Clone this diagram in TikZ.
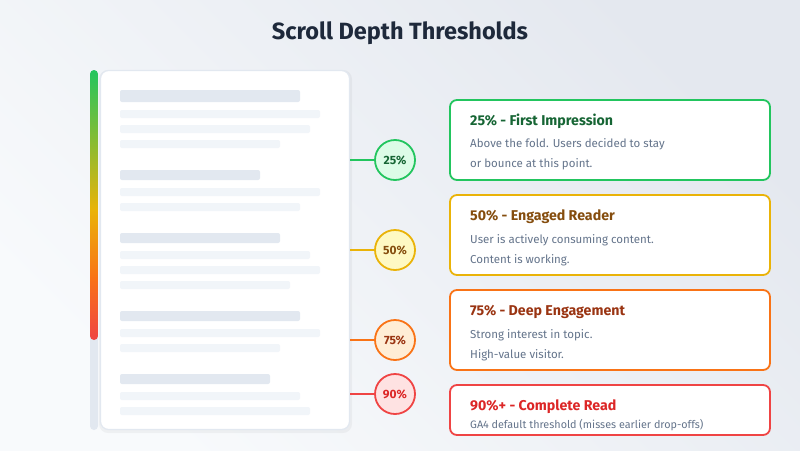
\documentclass[tikz,border=0pt]{standalone}
\usepackage{fontspec}
\setmainfont{Fira Sans}
\definecolor{bgA}{HTML}{F8FAFC}
\definecolor{bgB}{HTML}{E4E8EF}
\definecolor{titlec}{HTML}{1E293B}
\definecolor{trackc}{HTML}{E2E8F0}
\definecolor{headbar}{HTML}{E2E8F0}
\definecolor{textbar}{HTML}{F1F5F9}
\definecolor{descc}{HTML}{64748B}
\definecolor{gS}{HTML}{22C55E}\definecolor{gF}{HTML}{DCFCE7}\definecolor{gT}{HTML}{166534}
\definecolor{yS}{HTML}{EAB308}\definecolor{yF}{HTML}{FEF9C3}\definecolor{yT}{HTML}{854D0E}
\definecolor{oS}{HTML}{F97316}\definecolor{oF}{HTML}{FFEDD5}\definecolor{oT}{HTML}{9A3412}
\definecolor{rS}{HTML}{EF4444}\definecolor{rF}{HTML}{FEE2E2}\definecolor{rT}{HTML}{DC2626}
\tikzset{
  marker/.style={circle,minimum size=40pt,inner sep=0pt,line width=1.8pt,font=\fontsize{12}{13}\selectfont\bfseries},
  link/.style={line width=2.5pt},
  card/.style={rectangle,rounded corners=7pt,fill=white,line width=1.8pt,minimum width=320pt,inner sep=0pt},
  ctitle/.style={anchor=base west,inner sep=0pt,font=\fontsize{14.2}{15}\selectfont\bfseries},
  cdesc/.style={anchor=base west,inner sep=0pt,text=descc,font=\fontsize{11.5}{12}\selectfont},
  hbar/.style={fill=headbar,rounded corners=2pt},
  tbar/.style={fill=textbar,rounded corners=2pt},
}
\begin{document}
\begin{tikzpicture}[x=1pt,y=-1pt]
\useasboundingbox (0,0) rectangle (800,450);
\shade[top color=bgA,bottom color=bgB,shading angle=135] (0,0) rectangle (800,450);
\node[font=\fontsize{23.5}{25}\selectfont\bfseries,text=titlec,anchor=base] (title) at (400,39.5) {Scroll Depth Thresholds};
% progress track
\fill[trackc,rounded corners=4pt] (90,70) rectangle (98,430);
\begin{scope}
\clip[rounded corners=4pt] (90,70) rectangle (98,340);
\shade[top color=gS,bottom color=yS] (90,69) rectangle (98,211);
\shade[top color=yS,bottom color=oS] (90,210) rectangle (98,278);
\shade[top color=oS,bottom color=rS] (90,277) rectangle (98,341);
\end{scope}
% document
\fill[black,opacity=0.04,rounded corners=9pt] (99,70) rectangle (352,433);
\node[rectangle,rounded corners=8pt,fill=white,draw=trackc,line width=1.2pt,minimum width=249pt,minimum height=359pt,inner sep=0pt] (doc) at (225,250) {};
\fill[hbar] (120,90) rectangle (300,102);
\fill[tbar] (120,110) rectangle (320,118);
\fill[tbar] (120,125) rectangle (310,133);
\fill[tbar] (120,140) rectangle (280,148);
\fill[hbar] (120,170) rectangle (260,180);
\fill[tbar] (120,188) rectangle (320,196);
\fill[tbar] (120,203) rectangle (300,211);
\fill[hbar] (120,233) rectangle (280,243);
\fill[tbar] (120,251) rectangle (310,259);
\fill[tbar] (120,266) rectangle (320,274);
\fill[tbar] (120,281) rectangle (290,289);
\fill[hbar] (120,311) rectangle (300,321);
\fill[tbar] (120,329) rectangle (320,337);
\fill[tbar] (120,344) rectangle (280,352);
\fill[hbar] (120,374) rectangle (270,384);
\fill[tbar] (120,392) rectangle (300,400);
\fill[tbar] (120,407) rectangle (310,415);
% markers
\node[marker,draw=gS,fill=gF,text=gT] (m25) at (395,160) {25\%};
\node[marker,draw=yS,fill=yF,text=yT] (m50) at (395,250) {50\%};
\node[marker,draw=oS,fill=oF,text=oT] (m75) at (395,340) {75\%};
\node[marker,draw=rS,fill=rF,text=rT] (m90) at (395,394) {90\%};
\draw[link,gS] (doc.east |- m25) -- (m25);
\draw[link,yS] (doc.east |- m50) -- (m50);
\draw[link,oS] (doc.east |- m75) -- (m75);
\draw[link,rS] (doc.east |- m90) -- (m90);
% cards
\node[card,draw=gS,minimum height=80pt] (c25) at (610,140) {};
\node[card,draw=yS,minimum height=80pt] (c50) at (610,235) {};
\node[card,draw=oS,minimum height=80pt] (c75) at (610,330) {};
\node[card,draw=rS,minimum height=50pt] (c90) at (610,410) {};
\node[ctitle,text=gT] (t25) at (470,125) {25\% - First Impression};
\node[cdesc] (d25a) at (470,147.5) {Above the fold. Users decided to stay};
\node[cdesc] (d25b) at (470,167.5) {or bounce at this point.};
\node[ctitle,text=yT] (t50) at (470,220) {50\% - Engaged Reader};
\node[cdesc] (d50a) at (470,243.5) {User is actively consuming content.};
\node[cdesc] (d50b) at (470,263.5) {Content is working.};
\node[ctitle,text=oT] (t75) at (470,315) {75\% - Deep Engagement};
\node[cdesc] (d75a) at (470,338.5) {Strong interest in topic.};
\node[cdesc] (d75b) at (470,358.5) {High-value visitor.};
\node[ctitle,text=rT] (t90) at (470,410) {90\%+ - Complete Read};
\node[cdesc,font=\fontsize{10.8}{11}\selectfont] (d90) at (470,428.5) {GA4 default threshold (misses earlier drop-offs)};
\end{tikzpicture}
\end{document}
